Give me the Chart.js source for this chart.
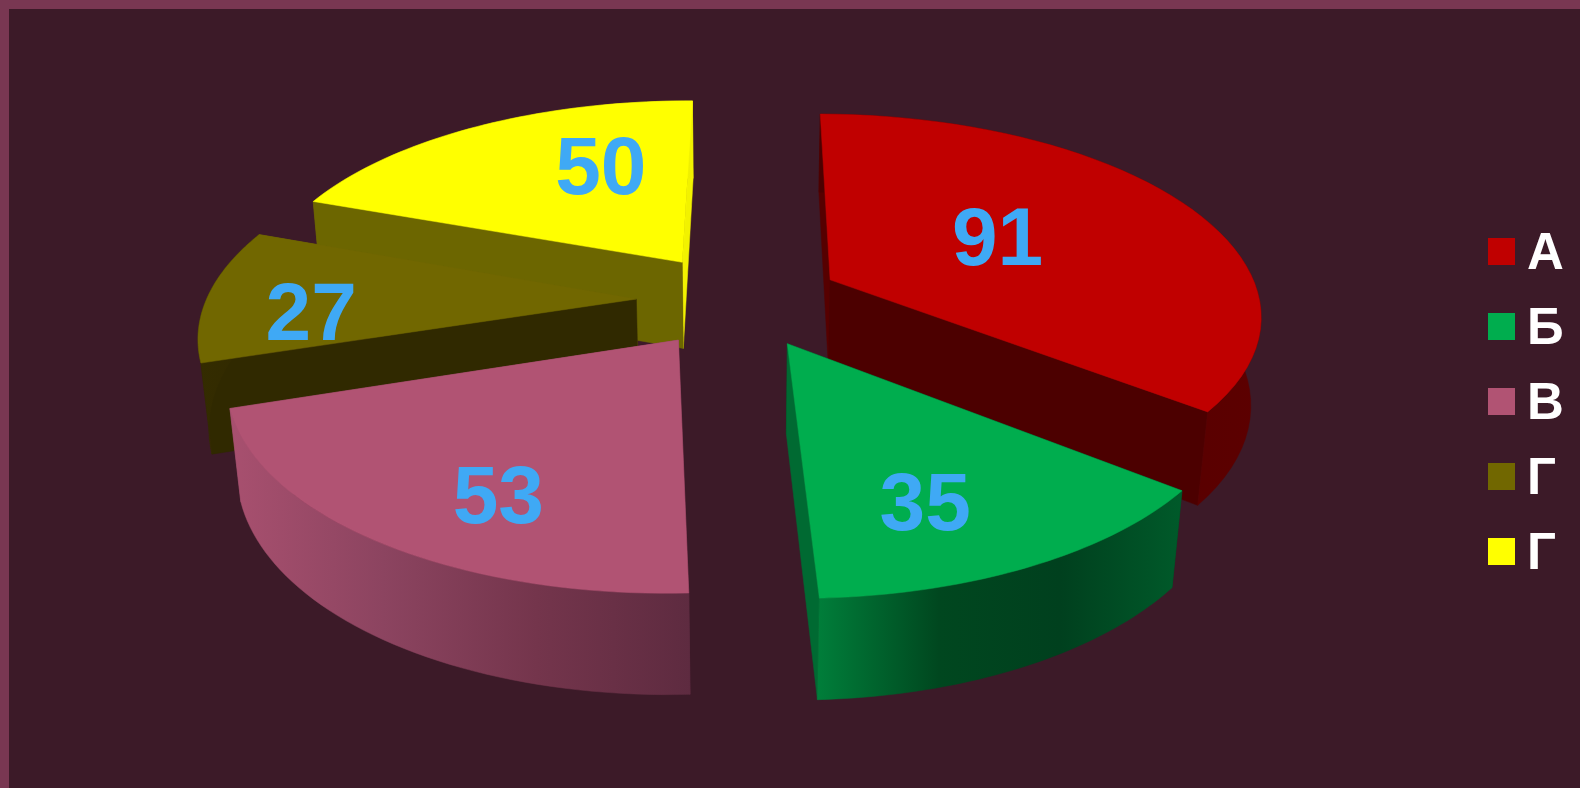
<!DOCTYPE html>
<html>
<head>
<meta charset="utf-8">
<title>Pie</title>
<script src="https://cdn.jsdelivr.net/npm/chart.js@4"></script>
<style>
    html, body { margin: 0; padding: 0; background: #3c1a28; }
    #wrap { position: relative; width: 1580px; height: 788px; overflow: hidden; background: #3c1a28; }
    #wrap:before { content: ""; position: absolute; left: 0; top: 0; right: 0; bottom: 0; border-top: 9px solid #793752; border-left: 9px solid #793752; }
    #myChart { position: absolute; left: 0; top: 0; }
    #legend { position: absolute; left: 1488px; top: 214px; margin: 0; padding: 0; list-style: none; }
    #legend li { display: flex; align-items: center; height: 75px; font: bold 51px "Liberation Sans", Arial, sans-serif; color: #fff; }
    #legend span { display: block; width: 27px; height: 27px; margin-right: 12px; }
</style>
</head>
<body>
<div id="wrap">
    <canvas id="myChart" width="1580" height="788"></canvas>
    <ul id="legend"></ul>
</div>
<script>
const categories = ["А", "Б", "В", "Г", "Г"];
const values = [91, 35, 53, 27, 50];
const topColors = ["#c00000", "#00ad4e", "#b15373", "#716700", "#ffff00"];

// cut faces of each slice: [side at start angle, side at end angle]
const cutColors = [
    ["#560000", "#4c0000"],
    ["#004a22", "#006a32"],
    ["#5e2b41", "#8a4460"],
    ["#302900", "#6c6600"],
    ["#6c6600", "#f2f200"]
];
// which cut face is painted first (the hidden one)
const cutOrder = [[0, 1], [0, 1], [0, 1], [1, 0], [1, 0]];
// outer wall gradient, left to right
const wallColors = [
    ["#4c0000", "#5c0000"],
    ["#007e3a", "#00471f", "#00401e", "#005a2a"],
    ["#a8506f", "#8c4460", "#74354c", "#5e2b40"],
    ["#342c00", "#302900"],
    ["#6c6600", "#6c6600", "#f2f200"]
];
const drawOrder = [4, 3, 0, 1, 2];

// value label nudge from the slice's 60% radius point, px
const labelNudge = [[-49, 10], [0, 39], [-9, 47], [-68, 21], [47, -6]];

// fake perspective: plan coords (radius = 1) to screen
const view = { kx: 1.605, ky: 0.74, tilt: 0.16, drop: 0.453, shrink: 0.02 };

function project(arc, u, v, z) {
    const R = arc.outerRadius;
    const d = 1 - view.tilt * v + view.shrink * z;
    return [
        arc.x + R * view.kx * u / d,
        arc.y + R * view.ky * (v + view.drop * z) / d
    ];
}

function planCenter(arc) {
    const mid = (arc.startAngle + arc.endAngle) / 2;
    const e = arc.options.offset / arc.outerRadius;
    return [e * Math.cos(mid), e * Math.sin(mid)];
}

function rimPoints(arc, z) {
    const [u0, v0] = planCenter(arc);
    const pts = [];
    const n = 48;
    for (let i = 0; i <= n; i++) {
        const a = arc.startAngle + (arc.endAngle - arc.startAngle) * i / n;
        pts.push(project(arc, u0 + Math.cos(a), v0 + Math.sin(a), z));
    }
    return pts;
}

function fillPoly(ctx, pts, fill) {
    ctx.beginPath();
    pts.forEach((p, i) => i ? ctx.lineTo(p[0], p[1]) : ctx.moveTo(p[0], p[1]));
    ctx.closePath();
    ctx.fillStyle = fill;
    ctx.fill();
    ctx.strokeStyle = fill;
    ctx.lineWidth = 0.5;
    ctx.stroke();
}

function wallGradient(ctx, pts, stops) {
    const xs = pts.map(p => p[0]);
    const g = ctx.createLinearGradient(Math.min(...xs), 0, Math.max(...xs), 0);
    stops.forEach((c, i) => g.addColorStop(i / (stops.length - 1), c));
    return g;
}

const pie3d = {
    id: "pie3d",
    beforeDatasetDraw(chart, args) {
        const ctx = chart.ctx;
        const arcs = args.meta.data;
        drawOrder.forEach(i => {
            const arc = arcs[i];
            const [u0, v0] = planCenter(arc);
            const top = rimPoints(arc, 0);
            const bottom = rimPoints(arc, 1);
            const apexTop = project(arc, u0, v0, 0);
            const apexBottom = project(arc, u0, v0, 1);
            const ends = [0, top.length - 1];

            cutOrder[i].forEach(side => {
                const k = ends[side];
                fillPoly(ctx, [apexTop, top[k], bottom[k], apexBottom], cutColors[i][side]);
            });

            const wall = top.concat(bottom.slice().reverse());
            fillPoly(ctx, wall, wallGradient(ctx, wall, wallColors[i]));

            fillPoly(ctx, [apexTop].concat(top), topColors[i]);
        });
        return false;
    },
    afterDatasetsDraw(chart) {
        const ctx = chart.ctx;
        const arcs = chart.getDatasetMeta(0).data;
        ctx.save();
        ctx.font = "bold 82px 'Liberation Sans', Arial, sans-serif";
        ctx.fillStyle = "#3fa9f5";
        ctx.textAlign = "center";
        ctx.textBaseline = "middle";
        arcs.forEach((arc, i) => {
            const [u0, v0] = planCenter(arc);
            const mid = (arc.startAngle + arc.endAngle) / 2;
            const p = project(arc, u0 + 0.6 * Math.cos(mid), v0 + 0.6 * Math.sin(mid), 0);
            ctx.fillText(values[i], p[0] + labelNudge[i][0], p[1] + labelNudge[i][1]);
        });
        ctx.restore();
    }
};

new Chart(document.getElementById("myChart"), {
    type: "pie",
    data: {
        labels: categories,
        datasets: [{
            data: values,
            backgroundColor: topColors,
            borderWidth: 0,
            offset: 64
        }]
    },
    options: {
        responsive: false,
        animation: false,
        rotation: 0.4,
        layout: { padding: { right: 102, bottom: 188 } },
        plugins: {
            legend: { display: false },
            tooltip: { enabled: false }
        }
    },
    plugins: [pie3d]
});

// legend
const legendEl = document.getElementById("legend");
categories.forEach((name, i) => {
    const li = document.createElement("li");
    const box = document.createElement("span");
    box.style.background = topColors[i];
    li.appendChild(box);
    li.appendChild(document.createTextNode(name));
    legendEl.appendChild(li);
});
</script>
</body>
</html>
